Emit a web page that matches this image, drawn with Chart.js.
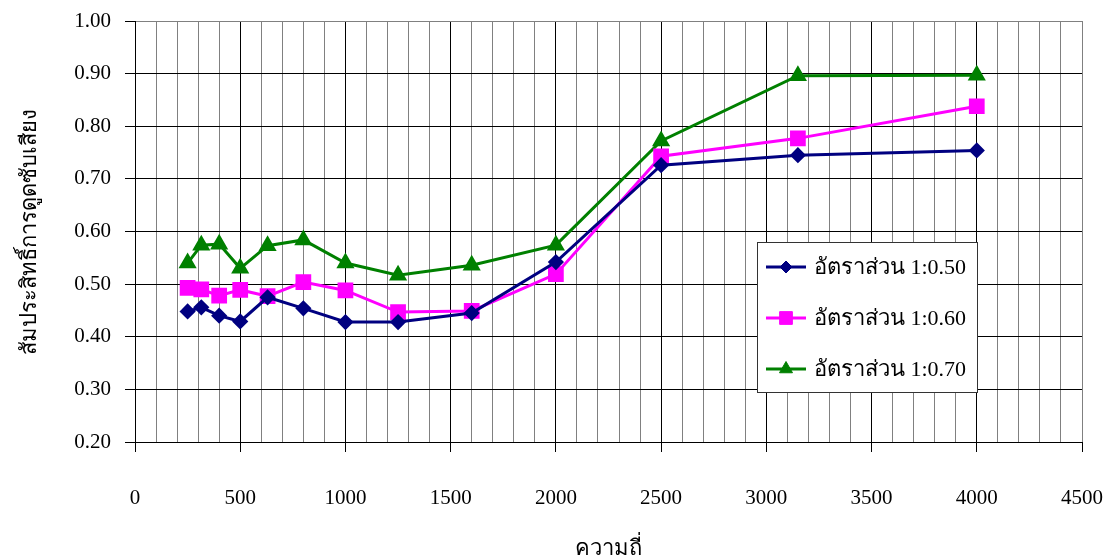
<!DOCTYPE html>
<html>
<head>
<meta charset="utf-8">
<script src="https://cdn.jsdelivr.net/npm/chart.js@4/dist/chart.umd.min.js"></script>
<style>
  body { margin: 0; background: #fff; }
  #wrap { width: 1107px; height: 558px; }
</style>
</head>
<body>
<div id="wrap"><canvas id="chartAbs" width="1107" height="558"></canvas></div>
<script>
const frequencies = [250, 315, 400, 500, 630, 800, 1000, 1250, 1600, 2000, 2500, 3150, 4000];
const ratio050 = [0.448, 0.456, 0.440, 0.429, 0.475, 0.454, 0.428, 0.428, 0.445, 0.542, 0.726, 0.745, 0.754];
const ratio060 = [0.493, 0.490, 0.478, 0.489, 0.477, 0.504, 0.488, 0.447, 0.449, 0.519, 0.743, 0.777, 0.838];
const ratio070 = [0.540, 0.574, 0.576, 0.530, 0.573, 0.584, 0.540, 0.517, 0.536, 0.574, 0.772, 0.896, 0.897];
const seriesLabels = ['อัตราส่วน 1:0.50', 'อัตราส่วน 1:0.60', 'อัตราส่วน 1:0.70'];

const serif = "'Liberation Serif', 'Times New Roman', serif";

function pts(values) {
    return values.map((v, i) => ({ x: frequencies[i], y: v }));
}

// fixed scale size, no extra label overflow padding
function fixSize(w, h) {
    return s => {
        if (w) s.width = w;
        if (h) s.height = h;
        s.paddingLeft = 0;
        s.paddingRight = 0;
        s.paddingTop = 0;
        s.paddingBottom = 0;
    };
}

// legend drawn inside the plot, like the original
const boxLegend = {
    id: 'boxLegend',
    afterDraw(chart) {
        const ctx = chart.ctx;
        const left = 757, top = 242, w = 220, h = 150;
        ctx.save();
        ctx.fillStyle = '#fff';
        ctx.fillRect(left, top, w, h);
        ctx.strokeStyle = '#333';
        ctx.lineWidth = 1;
        ctx.strokeRect(left + 0.5, top + 0.5, w, h);
        chart.data.datasets.forEach((ds, i) => {
            const y = top + 25 + i * 51;
            ctx.strokeStyle = ds.borderColor;
            ctx.lineWidth = 3;
            ctx.beginPath();
            ctx.moveTo(766, y);
            ctx.lineTo(806, y);
            ctx.stroke();
            ctx.fillStyle = ds.pointBackgroundColor;
            ctx.strokeStyle = ds.borderColor;
            ctx.lineWidth = 1;
            Chart.helpers.drawPoint(ctx, { pointStyle: ds.pointStyle, radius: ds.pointRadius, rotation: 0, borderWidth: 1 }, 786, y);
            ctx.fillStyle = '#000';
            ctx.font = '22px ' + serif;
            ctx.textBaseline = 'middle';
            ctx.fillText(ds.label, 814, y + 1);
        });
        ctx.restore();
    }
};

new Chart(document.getElementById('chartAbs'), {
    type: 'line',
    data: {
        datasets: [{
            label: seriesLabels[0],
            data: pts(ratio050),
            borderColor: '#000080',
            pointBackgroundColor: '#000080',
            pointStyle: 'rectRot',
            pointRadius: 6,
            borderWidth: 3
        }, {
            label: seriesLabels[1],
            data: pts(ratio060),
            borderColor: '#ff00ff',
            pointBackgroundColor: '#ff00ff',
            pointStyle: 'rect',
            pointRadius: 9,
            borderWidth: 3
        }, {
            label: seriesLabels[2],
            data: pts(ratio070),
            borderColor: '#008000',
            pointBackgroundColor: '#008000',
            pointStyle: 'triangle',
            pointRadius: 7.5,
            borderWidth: 3
        }]
    },
    options: {
        responsive: false,
        animation: false,
        layout: { padding: { top: 21, right: 25, left: 0, bottom: 0 } },
        elements: { line: { tension: 0 }, point: { borderWidth: 1 } },
        scales: {
            x: {
                type: 'linear',
                min: 0,
                max: 4500,
                afterFit: fixSize(0, 116),
                ticks: {
                    stepSize: 100,
                    autoSkip: false,
                    maxRotation: 0,
                    minRotation: 0,
                    padding: 34,
                    color: '#000',
                    font: { family: serif, size: 21 },
                    callback: v => (v % 500 === 0 ? String(v) : '')
                },
                grid: {
                    color: c => (c.tick && c.tick.value % 500 === 0 && c.tick.value !== 4500 ? '#000' : '#808080'),
                    tickColor: c => (c.tick && c.tick.value % 500 === 0 ? '#000' : 'rgba(0,0,0,0)'),
                    tickLength: 10,
                    lineWidth: 1
                },
                border: { color: '#000' },
                title: {
                    display: true,
                    text: 'ความถี่',
                    color: '#000',
                    font: { family: serif, size: 22 },
                    padding: { top: 4, bottom: -4 }
                }
            },
            y: {
                min: 0.2,
                max: 1.0,
                afterFit: fixSize(135, 0),
                ticks: {
                    stepSize: 0.1,
                    padding: 14,
                    color: '#000',
                    font: { family: serif, size: 21 },
                    callback: v => v.toFixed(2)
                },
                grid: {
                    color: c => (c.tick && Math.abs(c.tick.value - 1) < 1e-6 ? '#808080' : '#000'),
                    tickColor: '#000',
                    tickLength: 10
                },
                border: { color: '#000' },
                title: {
                    display: true,
                    text: 'สัมประสิทธิ์การดูดซับเสียง',
                    color: '#000',
                    font: { family: serif, size: 22 },
                    padding: { top: 17, bottom: 0 }
                }
            }
        },
        plugins: {
            legend: { display: false },
            tooltip: { enabled: false }
        }
    },
    plugins: [boxLegend]
});
</script>
</body>
</html>
